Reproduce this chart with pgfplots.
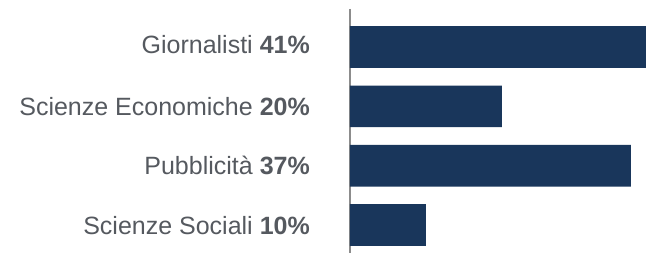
\documentclass[border=0pt]{standalone}
\usepackage{pgfplots}
\pgfplotsset{compat=1.18}
\usepackage{fontspec}
\setmainfont{Liberation Sans}
\definecolor{barblue}{RGB}{25,54,91}
\definecolor{labgray}{RGB}{85,89,95}
\definecolor{axgray}{RGB}{140,140,140}
\begin{document}
\begin{tikzpicture}
\begin{axis}[
  xbar,
  scale only axis,
  width=296pt, height=244pt,
  xmin=0, xmax=39.0,
  ymin=-0.64, ymax=3.47,
  y dir=reverse,
  bar width=41.7pt,
  bar shift=0pt,
  axis x line=none,
  axis y line*=left,
  y axis line style={draw=axgray, line width=1.2pt, -},
  ytick={0,1,2,3},
  yticklabels={\raisebox{5pt}{Giornalisti \textbf{41\%}}, Scienze Economiche \textbf{20\%}, Pubblicità \textbf{37\%}, \raisebox{-2pt}{Scienze Sociali \textbf{10\%}}},
  major tick length=0pt,
  yticklabel style={font=\fontsize{25}{30}\selectfont, text=labgray, anchor=east, inner sep=0pt, xshift=-40pt},
  clip=true,
]
\addplot[fill=barblue, draw=none] coordinates {(41,0) (20,1) (37,2) (10,3)};
\end{axis}
\pgfresetboundingbox
\path (current axis.south west) ++(-350pt,-1pt) rectangle ++(646pt,254pt);
\end{tikzpicture}
\end{document}
